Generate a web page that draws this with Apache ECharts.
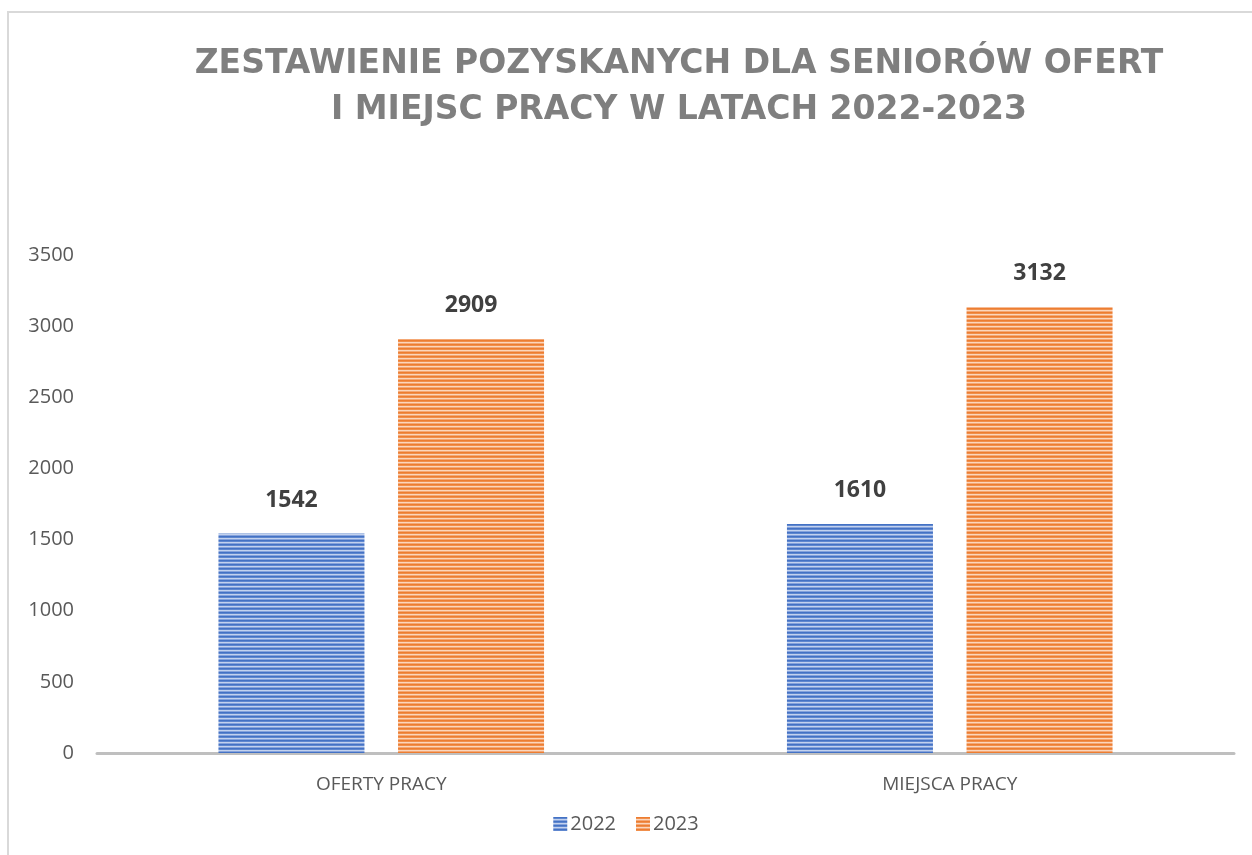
<!DOCTYPE html>
<html>
<head>
<meta charset="utf-8">
<script src="https://cdn.jsdelivr.net/npm/echarts@6/dist/echarts.min.js"></script>
<style>
html,body{margin:0;padding:0;background:#fff;}
#chart{width:1252px;height:855px;}
</style>
</head>
<body>
<div id="chart"></div>
<script>
const categories = ['OFERTY PRACY', 'MIEJSCA PRACY'];
const seriesNames = ['2022', '2023'];
const values2022 = [1542, 1610];
const values2023 = [2909, 3132];
const titleLines = ['ZESTAWIENIE POZYSKANYCH DLA SENIORÓW OFERT', 'I MIEJSC PRACY W LATACH 2022-2023'];

function stripe(colors) {
  const c = document.createElement('canvas');
  c.width = 4; c.height = colors.length;
  const ctx = c.getContext('2d');
  colors.forEach((col, i) => { ctx.fillStyle = col; ctx.fillRect(0, i, 4, 1); });
  return { image: c, repeat: 'repeat' };
}
const bluePat = stripe(['#4472C4', '#5f87cf', '#c3d2ee', '#86a3dc']);
const orangePat = stripe(['#ED7D31', '#f08f4c', '#fbd6bd', '#f4a875']);

const chart = echarts.init(document.getElementById('chart'));
const labelStyle = { show: true, position: 'top', distance: 22, fontFamily: 'Open Sans', fontWeight: 'bold', fontSize: 23, color: '#404040' };
const titleFont = 'bold 33px "DejaVu Sans"';
chart.setOption({
  animation: false,
  backgroundColor: '#fff',
  graphic: [
    { type: 'rect', shape: { x: 8, y: 12, width: 1260, height: 860 }, style: { fill: 'none', stroke: '#d9d9d9', lineWidth: 2 }, silent: true },
    { type: 'text', style: { text: titleLines[0], x: 679, y: 64, align: 'center', verticalAlign: 'middle', font: titleFont, fill: '#7f7f7f' } },
    { type: 'text', style: { text: titleLines[1], x: 679, y: 110, align: 'center', verticalAlign: 'middle', font: titleFont, fill: '#7f7f7f' } }
  ],
  grid: { left: 97, right: 18, top: 255, bottom: 102, containLabel: false },
  legend: {
    data: seriesNames, bottom: 16, left: 'center', itemWidth: 14, itemHeight: 14, itemGap: 20,
    textStyle: { fontFamily: 'Open Sans', fontSize: 20, color: '#595959', padding: [0,0,0,-2] },
    icon: 'rect'
  },
  xAxis: {
    type: 'category', data: categories,
    axisLine: { lineStyle: { color: '#bfbfbf', width: 3 } },
    axisTick: { show: false },
    axisLabel: { fontFamily: 'Open Sans', fontSize: 19, color: '#595959', margin: 22 }
  },
  yAxis: {
    type: 'value', min: 0, max: 3500, interval: 500,
    axisLine: { show: false }, axisTick: { show: false },
    splitLine: { show: false },
    axisLabel: { fontFamily: 'Open Sans', fontSize: 20, color: '#595959', margin: 23, formatter: v => String(v) }
  },
  series: [
    { name: seriesNames[0], type: 'bar', data: values2022, barWidth: 146, barGap: '23%', itemStyle: { color: bluePat }, label: labelStyle },
    { name: seriesNames[1], type: 'bar', data: values2023, barWidth: 146, barGap: '23%', itemStyle: { color: orangePat }, label: labelStyle }
  ]
});
</script>
</body>
</html>
